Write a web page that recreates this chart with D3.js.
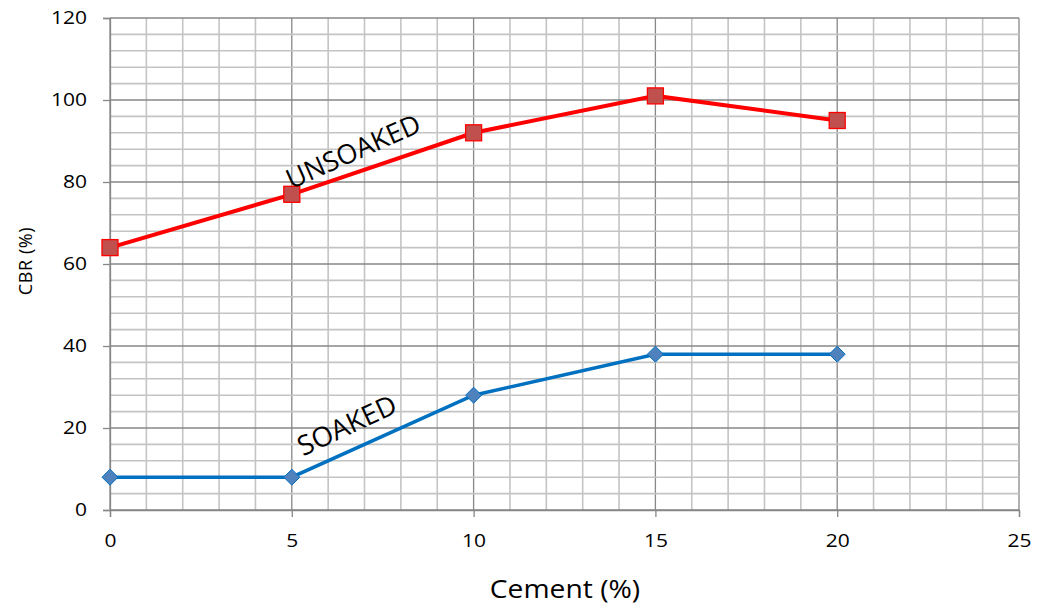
<!DOCTYPE html>
<html><head><meta charset="utf-8">
<script src="https://cdn.jsdelivr.net/npm/d3@7/dist/d3.min.js"></script>
<style>body{margin:0;background:#fff}svg{display:block;font-family:"Open Sans",sans-serif}</style>
</head><body><svg id="c" width="1038" height="606"></svg>
<script>
const cement = [0, 5, 10, 15, 20];
const unsoaked = [64, 77, 92, 101, 95];
const soaked = [8, 8, 28, 38, 38];
const xTicks = [0, 5, 10, 15, 20, 25];
const yTicks = [0, 20, 40, 60, 80, 100, 120];
const xLabel = "Cement (%)";
const yLabel = "CBR (%)";
const labelUnsoaked = "UNSOAKED";
const labelSoaked = "SOAKED";

const svg = d3.select("#c");
const x = d3.scaleLinear().domain([0, 25]).range([110, 1019]);
const y = d3.scaleLinear().domain([0, 120]).range([510, 18]);

const g = svg.append("g");
g.selectAll(".vx").data(d3.range(0, 26)).join("line")
  .attr("x1", d => x(d)).attr("x2", d => x(d)).attr("y1", y(0)).attr("y2", y(120))
  .attr("stroke", d => d % 5 === 0 ? "#878787" : "#c4c4c4").attr("stroke-width", d => d % 5 === 0 ? 1.3 : 1.6);
g.selectAll(".hy").data(d3.range(0, 121, 4)).join("line")
  .attr("y1", d => y(d)).attr("y2", d => y(d)).attr("x1", x(0)).attr("x2", x(25))
  .attr("stroke", d => d % 20 === 0 ? "#878787" : "#c4c4c4").attr("stroke-width", d => d % 20 === 0 ? 1.3 : 1.6);

const SX = 1.2;
const xAxis = d3.axisBottom(x).tickValues(xTicks).tickSize(7).tickPadding(18);
const yAxis = d3.axisLeft(y).tickValues(yTicks).tickSize(7).tickPadding(16);
const gx = svg.append("g").attr("transform", `translate(0,${y(0)})`).call(xAxis);
const gy = svg.append("g").attr("transform", `translate(${x(0)},0)`).call(yAxis);
[gx, gy].forEach(a => {
  a.select(".domain").attr("stroke", "#878787").attr("stroke-width", 1.3);
  a.selectAll(".tick line").attr("stroke", "#878787").attr("stroke-width", 1.3);
  a.selectAll("text").attr("font-size", 17.5).attr("fill", "#000").attr("font-family", '"Open Sans",sans-serif')
    .attr("transform", `scale(${SX},1)`);
});
gy.selectAll("text").attr("x", -(7 + 16) / SX);

const line = (vals) => d3.line().x((d, i) => x(cement[i])).y(d => y(d))(vals);
svg.append("path").attr("d", line(unsoaked)).attr("fill", "none").attr("stroke", "#ff0000").attr("stroke-width", 4);
svg.append("path").attr("d", line(soaked)).attr("fill", "none").attr("stroke", "#0070c0").attr("stroke-width", 3.5);

svg.selectAll(".sq").data(unsoaked).join("rect")
  .attr("x", (d, i) => x(cement[i]) - 8).attr("y", d => y(d) - 8)
  .attr("width", 16).attr("height", 16)
  .attr("fill", "#c0504d").attr("stroke", "#ff0000").attr("stroke-width", 1.3);
svg.selectAll(".dm").data(soaked).join("path")
  .attr("d", (d, i) => { const cx = x(cement[i]), cy = y(d), r = 8; return `M${cx},${cy-r}L${cx+r},${cy}L${cx},${cy+r}L${cx-r},${cy}Z`; })
  .attr("fill", "#4f81bd").attr("stroke", "#0070c0").attr("stroke-width", 1);

svg.append("text").text(labelUnsoaked).attr("transform", "translate(357,160) rotate(-24)")
  .attr("text-anchor", "middle").attr("font-size", 27).attr("fill", "#000");
svg.append("text").text(labelSoaked).attr("transform", "translate(351,434) rotate(-25)")
  .attr("text-anchor", "middle").attr("font-size", 27.5).attr("fill", "#000");

svg.append("text").text(xLabel).attr("transform", "translate(565,598) scale(1.13,1)").attr("text-anchor", "middle")
  .attr("font-size", 25).attr("fill", "#000");
svg.append("text").text(yLabel).attr("transform", "translate(32,261) rotate(-90)").attr("text-anchor", "middle")
  .attr("font-size", 18).attr("letter-spacing", 0.6).attr("fill", "#000");
</script></body></html>
